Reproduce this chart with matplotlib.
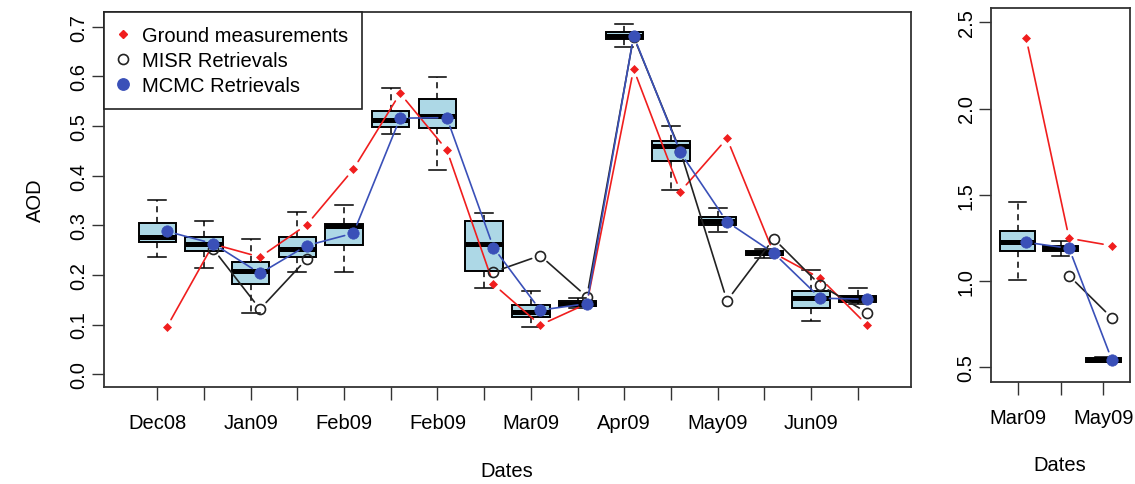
import numpy as np
import matplotlib
matplotlib.use("Agg")
import matplotlib.pyplot as plt
from matplotlib.lines import Line2D

plt.rcParams['font.family'] = ['Liberation Sans', 'DejaVu Sans']

nan = np.nan

# ---------------- left panel data ----------------
left_ticklabels = ["Dec08", "", "Jan09", "", "Feb09", "", "Feb09", "",
                   "Mar09", "", "Apr09", "", "May09", "", "Jun09", ""]
left_whislo = [0.236, 0.213, 0.123, 0.206, 0.206, 0.484, 0.411, 0.173,
               0.094, 0.133, 0.659, 0.372, 0.287, 0.235, 0.107, 0.142]
left_q1 = [0.267, 0.249, 0.181, 0.237, 0.261, 0.499, 0.497, 0.207,
           0.116, 0.138, 0.675, 0.430, 0.300, 0.240, 0.134, 0.146]
left_med = [0.277, 0.262, 0.207, 0.252, 0.299, 0.512, 0.521, 0.262,
            0.126, 0.142, 0.682, 0.459, 0.309, 0.244, 0.153, 0.153]
left_q3 = [0.304, 0.276, 0.227, 0.276, 0.302, 0.530, 0.554, 0.308,
           0.139, 0.148, 0.689, 0.469, 0.316, 0.249, 0.167, 0.158]
left_whishi = [0.351, 0.309, 0.273, 0.326, 0.341, 0.577, 0.598, 0.325,
               0.167, 0.153, 0.706, 0.500, 0.335, 0.253, 0.210, 0.173]
left_ground = [0.094, 0.262, 0.236, 0.301, 0.413, 0.566, 0.452, 0.181,
               0.099, 0.142, 0.615, 0.368, 0.475, 0.244, 0.193, 0.099]
left_misr = [nan, 0.252, 0.131, 0.232, nan, nan, nan, 0.206,
             0.239, 0.156, 0.680, 0.450, 0.148, 0.273, 0.179, 0.124]
left_mcmc = [0.288, 0.263, 0.203, 0.259, 0.284, 0.516, 0.517, 0.255,
             0.129, 0.142, 0.682, 0.447, 0.307, 0.244, 0.153, 0.151]

# ---------------- right panel data ----------------
right_ticklabels = ["Mar09", "", "May09"]
right_whislo = [1.008, 1.143, 0.529]
right_q1 = [1.172, 1.176, 0.533]
right_med = [1.228, 1.190, 0.542]
right_q3 = [1.288, 1.201, 0.552]
right_whishi = [1.460, 1.230, 0.558]
right_ground = [2.407, 1.248, 1.205]
right_misr = [nan, 1.031, 0.786]
right_mcmc = [1.225, 1.190, 0.542]

RED = '#F01E1E'
BLUE = '#3A50B8'
BOXFILL = '#ADD8E6'
FRAME = '#333333'
FS = 14.5

fig = plt.figure(figsize=(11.35, 4.85), dpi=100)
axL = fig.add_axes([104/1135, 1-388/485, (911-104)/1135, (388-13)/485])
axR = fig.add_axes([991/1135, 1-382.7/485, (1130-991)/1135, (382.7-9.3)/485])


def draw_panel(ax, wlo, q1, med, q3, whi, ground, misr, mcmc, labels, ylim, yticks):
    n = len(med)
    pos = np.arange(1, n + 1)
    stats = [dict(whislo=a, q1=b, med=c, q3=d, whishi=e, fliers=[])
             for a, b, c, d, e in zip(wlo, q1, med, q3, whi)]
    ax.bxp(stats, positions=pos, widths=0.8, capwidths=0.38, patch_artist=True,
           showfliers=False,
           boxprops=dict(facecolor=BOXFILL, edgecolor='black', linewidth=1.4),
           medianprops=dict(color='black', linewidth=3.6, solid_capstyle='butt'),
           whiskerprops=dict(color='black', linewidth=1.1, linestyle=(0, (4, 3))),
           capprops=dict(color='black', linewidth=1.1))
    ax.set_xlim(-0.04 * n + 0.5, n + 0.5 + 0.04 * n)
    ax.set_ylim(*ylim)
    xp = pos + 0.2

    def series(vals, color, marker, ms, mfc, mec, mew, z):
        vals = np.asarray(vals, dtype=float)
        for i in range(n - 1):
            if np.isnan(vals[i]) or np.isnan(vals[i + 1]):
                continue
            ax.annotate('', xy=(xp[i + 1], vals[i + 1]), xytext=(xp[i], vals[i]),
                        xycoords='data', textcoords='data',
                        arrowprops=dict(arrowstyle='-', color=color, lw=1.2,
                                        shrinkA=6.5, shrinkB=6.5),
                        zorder=z)
        ax.plot(xp, vals, linestyle='none', marker=marker, markersize=ms,
                markerfacecolor=mfc, markeredgecolor=mec, markeredgewidth=mew,
                zorder=z + 0.5)

    series(ground, RED, 'D', 4.3, RED, RED, 0.5, 3)
    series(misr, '#222222', 'o', 7.2, 'none', '#222222', 1.2, 4)
    series(mcmc, BLUE, 'o', 8.2, BLUE, BLUE, 0.5, 5)

    ax.set_xticks(pos)
    ax.set_xticklabels(labels, fontsize=FS)
    ax.set_yticks(yticks)
    ax.set_yticklabels([f"{t:.1f}" for t in yticks], fontsize=FS,
                       rotation=90, va='center')
    ax.tick_params(axis='both', direction='out', length=9, width=1.0,
                   color='#333333')
    ax.tick_params(axis='x', pad=10)
    ax.tick_params(axis='y', pad=2)
    for s in ax.spines.values():
        s.set_color(FRAME)
        s.set_linewidth(1.3)


draw_panel(axL, left_whislo, left_q1, left_med, left_q3, left_whishi,
           left_ground, left_misr, left_mcmc, left_ticklabels,
           (-0.026, 0.730), [0.0, 0.1, 0.2, 0.3, 0.4, 0.5, 0.6, 0.7])
draw_panel(axR, right_whislo, right_q1, right_med, right_q3, right_whishi,
           right_ground, right_misr, right_mcmc, right_ticklabels,
           (0.417, 2.581), [0.5, 1.0, 1.5, 2.0, 2.5])

handles = [
    Line2D([], [], linestyle='none', marker='D', markersize=4.3,
           markerfacecolor=RED, markeredgecolor=RED),
    Line2D([], [], linestyle='none', marker='o', markersize=7.2,
           markerfacecolor='none', markeredgecolor='#222222', markeredgewidth=1.2),
    Line2D([], [], linestyle='none', marker='o', markersize=8.2,
           markerfacecolor=BLUE, markeredgecolor=BLUE),
]
leg = axL.legend(handles, ["Ground measurements", "MISR Retrievals", "MCMC Retrievals"],
                 loc='upper left', bbox_to_anchor=(0, 1), borderaxespad=0,
                 fontsize=FS, frameon=True, fancybox=False, framealpha=1,
                 edgecolor='#222222', handlelength=0.4, handletextpad=0.76,
                 borderpad=0.72, labelspacing=0.28)
leg.get_frame().set_linewidth(1.2)
leg.set_zorder(10)

fig.text(35/1135, 1-200/485, "AOD", rotation=90, ha='center', va='center', fontsize=FS)
fig.text(507/1135, 1-472/485, "Dates", ha='center', va='center', fontsize=FS)
fig.text(1060/1135, 1-466/485, "Dates", ha='center', va='center', fontsize=FS)

fig.savefig("out.png", dpi=100)
